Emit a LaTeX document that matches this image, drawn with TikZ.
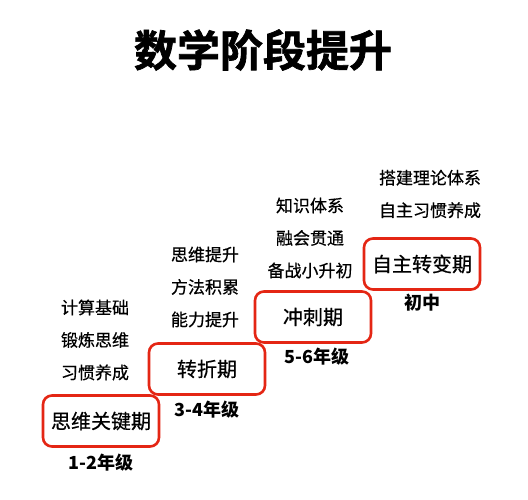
\documentclass[tikz,border=0pt]{standalone}
\usepackage{fontspec}
\newfontfamily\cjk{Noto Sans CJK SC}
\newfontfamily\cjkheavy[FakeBold=1.6]{Noto Sans CJK SC Bold}
\newfontfamily\cjkmid[FakeBold=0.6]{Noto Sans CJK SC}
\definecolor{stagered}{RGB}{228,38,20}
\begin{document}
\begin{tikzpicture}[x=1pt, y=-1pt,
    stagebox/.style={draw=stagered, line width=2.6pt, rounded corners=9pt,
      minimum width=116pt, minimum height=51pt, font=\cjkmid\fontsize{20}{22}\selectfont},
    gradelabel/.style={font=\cjk\bfseries\fontsize{18}{20}\selectfont},
    notes/.style={align=center, font=\cjkmid\fontsize{17}{32.5}\selectfont}]
    \useasboundingbox (0, 0) rectangle (528, 500);
    \node [font=\cjkheavy\fontsize{43}{46}\selectfont] (title) at (263, 50) {数学阶段提升};

    % stages
    \node [stagebox] (box1) at (101, 421) {思维关键期};
    \node [stagebox] (box2) at (207, 369) {转折期};
    \node [stagebox] (box3) at (313, 317) {冲刺期};
    \node [stagebox] (box4) at (422, 264) {自主转变期};

    \node [gradelabel] (grade1) at (101, 463) {1-2年级};
    \node [gradelabel] (grade2) at (207, 410) {3-4年级};
    \node [gradelabel] (grade3) at (317, 357) {5-6年级};
    \node [gradelabel] (grade4) at (422, 303) {初中};

    % what each stage builds
    \node [notes] (notes1) at (95, 340) {计算基础\\锻炼思维\\习惯养成};
    \node [notes] (notes2) at (205, 287) {思维提升\\方法积累\\能力提升};
    \node [notes] (notes3) at (310, 238) {知识体系\\融会贯通\\备战小升初};
    \node [notes] (notes4) at (430, 194) {搭建理论体系\\自主习惯养成};
  \end{tikzpicture}
\end{document}
